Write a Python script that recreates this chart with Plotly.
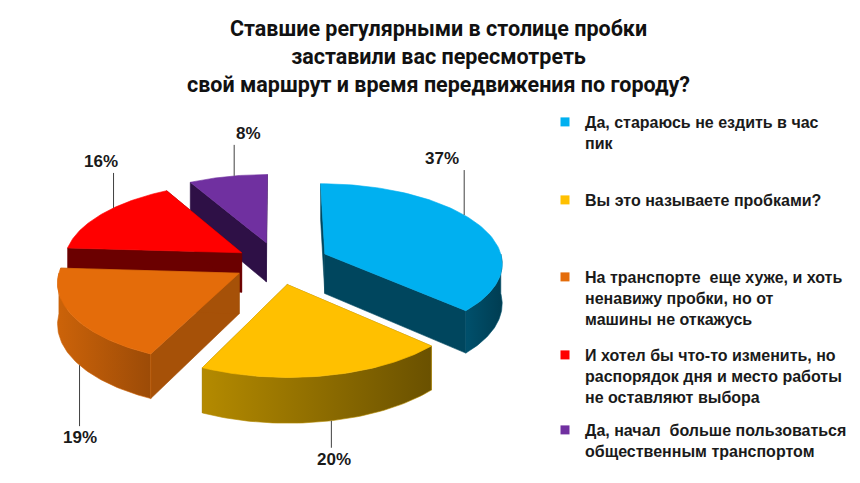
import numpy as np
import plotly.graph_objects as go

# ── data ──────────────────────────────────────────────────────────────────────
TITLE_LINES = [
    "Ставшие регулярными в столице пробки",
    "заставили вас пересмотреть",
    "свой маршрут и время передвижения по городу?",
]
CATEGORIES = [
    "Да, стараюсь не ездить в час<br>пик",
    "Вы это называете пробками?",
    "На транспорте  еще хуже, и хоть<br>ненавижу пробки, но от<br>машины не откажусь",
    "И хотел бы что-то изменить, но<br>распорядок дня и место работы<br>не оставляют выбора",
    "Да, начал  больше пользоваться<br>общественным транспортом",
]
SHARES = [37, 20, 19, 16, 8]

# ── style ─────────────────────────────────────────────────────────────────────
C_TOP  = ["#00b0f0", "#ffc000", "#e46c0a", "#ff0000", "#7030a0"]
C_WALL = ["#00465e", "#8c6b00", "#a65108", "#6b0000", "#2e1046"]
C_RIM  = [("#00506c", "#003d52"), ("#b48a00", "#6a5100"), ("#cc6309", "#9c4b07"),
          ("#7a0000", "#580000"), ("#38154f", "#2a0e3e")]
PULL     = [0.29, 0.27, 0.25, 0.245, 0.27]
LBL_FRAC = [0.435, 0.48, 0.44, 0.60, 0.58]  # where on the rim the leader starts
LBL_LEN  = [-45, 27, 61, -35, -31]          # <0 up from top face, >0 down from base
LBL_DX   = [-22, 3, 0, -13, 14]
LEG_Y    = [97, 175, 252, 330, 405]         # px from top of each legend item

W, H = 860, 483
CX, CY = 270, 255
RX, RY = 178, 79
DEPTH = 40
PERSP = 0.10
FONT = "Liberation Sans"


def project(u, v, drop=0.0):
    p = 1.0 / (1.0 + PERSP * v)
    return CX + RX * u * p, CY - RY * v * p + DEPTH * p * drop


def rim(au, av, th, drop=0.0):
    return project(au + np.sin(th), av + np.cos(th), drop)


def poly(fig, xs, ys, color, grad=None):
    kw = dict(fill="toself", fillcolor=color)
    if grad:
        kw = dict(fill="toself",
                  fillgradient=dict(type="horizontal",
                                    colorscale=[[0, grad[0]], [1, grad[1]]]))
    fig.add_trace(go.Scatter(
        x=list(xs), y=list(ys), mode="lines",
        line=dict(color=color, width=0.6),
        hoverinfo="skip", showlegend=False, **kw,
    ))


fig = go.Figure()

total = float(sum(SHARES))
edges = np.concatenate([[0], np.cumsum(SHARES)]) / total * 2 * np.pi
mids = (edges[:-1] + edges[1:]) / 2

# far slices first
order = sorted(range(len(SHARES)), key=lambda i: -np.cos(mids[i]))

for i in order:
    t1, t2, m = edges[i], edges[i + 1], mids[i]
    au, av = PULL[i] * np.sin(m), PULL[i] * np.cos(m)
    ax, ay = project(au, av)
    bx, by = project(au, av, 1.0)

    # radial walls
    for th in (t1, t2):
        rx0, ry0 = rim(au, av, th)
        rx1, ry1 = rim(au, av, th, 1.0)
        poly(fig, [ax, rx0, rx1, bx, ax], [ay, ry0, ry1, by, ay], C_WALL[i])

    # outer wall, front half only
    lo, hi = max(t1, np.pi / 2), min(t2, 1.5 * np.pi)
    if hi > lo:
        ts = np.linspace(lo, hi, 60)
        xt, yt = rim(au, av, ts)
        xb, yb = rim(au, av, ts[::-1], 1.0)
        poly(fig, np.concatenate([xt, xb, xt[:1]]), np.concatenate([yt, yb, yt[:1]]),
             C_RIM[i][0], grad=C_RIM[i])

    # top face
    ts = np.linspace(t1, t2, 80)
    xt, yt = rim(au, av, ts)
    poly(fig, np.concatenate([[ax], xt, [ax]]), np.concatenate([[ay], yt, [ay]]), C_TOP[i])

# leader lines and labels
for i, s in enumerate(SHARES):
    t1, t2, m = edges[i], edges[i + 1], mids[i]
    au, av = PULL[i] * np.sin(m), PULL[i] * np.cos(m)
    th = t1 + LBL_FRAC[i] * (t2 - t1)
    up = LBL_LEN[i] < 0
    x0, y0 = rim(au, av, th, 0.0 if up else 1.0)
    y1 = y0 + LBL_LEN[i]
    fig.add_trace(go.Scatter(
        x=[x0, x0], y=[y0, y1], mode="lines",
        line=dict(color="#404040", width=1),
        hoverinfo="skip", showlegend=False,
    ))
    fig.add_annotation(
        x=x0 + LBL_DX[i], y=y1, text=f"<b>{s}%</b>", showarrow=False,
        xanchor="center", yanchor="bottom" if up else "top",
        font=dict(family=FONT, size=17, color="#1a1a1a"),
    )

# title as a paper annotation so its three lines sit where the original has them
fig.add_annotation(
    xref="paper", yref="paper", x=0.5, y=1 - 6 / H,
    xanchor="center", yanchor="top", align="center", showarrow=False,
    text="<b>" + "<br>".join(TITLE_LINES) + "</b>",
    font=dict(family="Roboto", size=21.5, color="#111111"),
)

# legend: one small legend per item so they can be spaced like the original
leg_keys = ["legend"] + [f"legend{k}" for k in range(2, len(CATEGORIES) + 1)]
for i, name in enumerate(CATEGORIES):
    fig.add_trace(go.Scatter(
        x=[None], y=[None], mode="markers",
        marker=dict(symbol="square", size=9, color=C_TOP[i]),
        name=f"<b>{name}</b>", legend=leg_keys[i], showlegend=True,
    ))

legends = {}
for i, key in enumerate(leg_keys):
    legends[key] = dict(
        x=537 / W, y=1 - LEG_Y[i] / H, xanchor="left", yanchor="top",
        valign="top", bgcolor="rgba(0,0,0,0)", borderwidth=0,
        font=dict(family=FONT, size=16, color="#1a1a1a"),
        itemclick=False, itemdoubleclick=False,
    )

fig.update_layout(
    width=W, height=H,
    margin=dict(l=0, r=0, t=0, b=0, pad=0),
    paper_bgcolor="white", plot_bgcolor="white",
    xaxis=dict(range=[0, W], visible=False, fixedrange=True),
    yaxis=dict(range=[H, 0], visible=False, fixedrange=True),
    **legends,
)

fig.write_html("out.html")
